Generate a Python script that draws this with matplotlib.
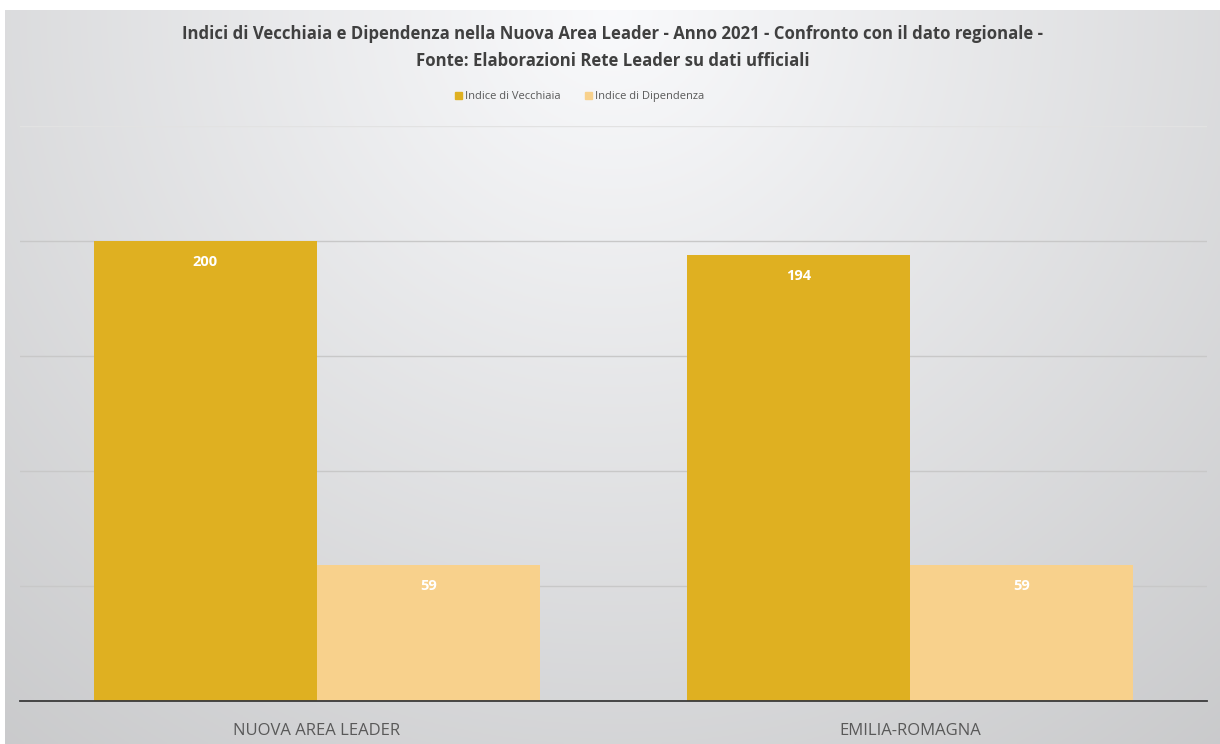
import numpy as np
import matplotlib.pyplot as plt
from matplotlib.patches import Patch

# data
categories = ['NUOVA AREA LEADER', 'EMILIA-ROMAGNA']
series_names = ['Indice di Vecchiaia', 'Indice di Dipendenza']
vecchiaia = [200, 194]
dipendenza = [59, 59]
colors = ['#DFB021', '#F8D18C']

title = ('Indici di Vecchiaia e Dipendenza nella Nuova Area Leader - Anno 2021 - Confronto con il dato regionale -\n'
         'Fonte: Elaborazioni Rete Leader su dati ufficiali')

plt.rcParams['font.family'] = ['Open Sans', 'DejaVu Sans']

fig = plt.figure(figsize=(12.2, 7.44), dpi=100, facecolor='white')

# radial grey gradient background (chart area)
bg = fig.add_axes([5 / 1220, 0, 1 - 5 / 1220, 1 - 10 / 744], zorder=0)
yy, xx = np.mgrid[0:1:300j, 0:1:500j]
d = np.sqrt(((xx - 0.5) / 0.8) ** 2 + ((yy - 0.0) / 1.3) ** 2)
shade = np.clip(250 - 48 * d, 200, 250) / 255.0
img = np.dstack([shade * 0.997, shade, shade * 1.008])
bg.imshow(np.clip(img, 0, 1), aspect='auto', extent=[0, 1, 1, 0])
bg.axis('off')

ax = fig.add_axes([20 / 1220, 1 - 701 / 744, (1207 - 20) / 1220, (701 - 126) / 744], zorder=1)
ax.patch.set_alpha(0)

x = np.arange(len(categories))
w = 0.376
b1 = ax.bar(x - w / 2, vecchiaia, w, color=colors[0], label=series_names[0], zorder=2)
b2 = ax.bar(x + w / 2, dipendenza, w, color=colors[1], label=series_names[1], zorder=2)

for bars, vals in ((b1, vecchiaia), (b2, dipendenza)):
    for r, v in zip(bars, vals):
        ax.text(r.get_x() + r.get_width() / 2, v - 6, str(v), ha='center', va='top',
                color='white', fontsize=10.5, fontweight='bold', zorder=3)

ax.set_xlim(-0.5, 1.5)
ax.set_ylim(0, 250)
ax.set_yticks([50, 100, 150, 200, 250])
ax.set_yticklabels([])
ax.tick_params(axis='y', length=0)
ax.yaxis.grid(True, color='#c8c8c8', linewidth=1)
ax.get_ygridlines()[-1].set_color('#e2e2e2')
ax.set_axisbelow(True)
ax.set_xticks(x)
ax.set_xticklabels(categories, fontsize=12, color='#595959')
ax.tick_params(axis='x', length=0, pad=16)
for s in ['top', 'right', 'left']:
    ax.spines[s].set_visible(False)
ax.spines['bottom'].set_color('#3a3a3a')
ax.spines['bottom'].set_linewidth(1.3)

fig.text(0.502, 0.966, title, ha='center', va='top', fontsize=12.1, fontweight='bold',
         color='#404040', linespacing=1.65)

handles = [Patch(color=c) for c in colors]
fig.legend(handles, series_names, loc='center', bbox_to_anchor=(0.475, 0.870), ncol=2,
           frameon=False, fontsize=8, labelcolor='#595959', handlelength=0.6, handleheight=0.6,
           handletextpad=0.3, columnspacing=2.2)

fig.savefig('out.png', dpi=100, facecolor='white')
